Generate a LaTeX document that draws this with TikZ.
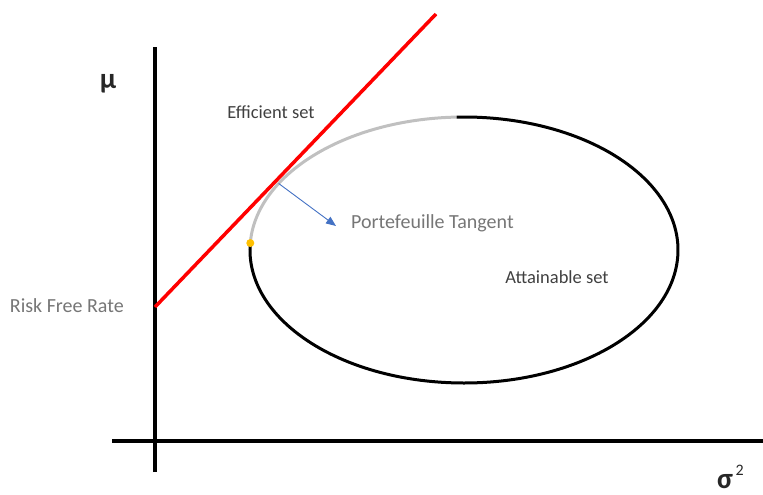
\documentclass[tikz,border=0pt]{standalone}
\usepackage{fontspec}
\setmainfont{Carlito}
\usepackage{tikz}
\usetikzlibrary{positioning,arrows.meta,calc}
\definecolor{rouge}{RGB}{255,0,0}
\definecolor{grisarc}{RGB}{192,192,192}
\definecolor{gristexte}{RGB}{118,118,118}
\definecolor{grisfonce}{RGB}{64,64,64}
\definecolor{bleufleche}{RGB}{68,114,196}
\definecolor{jaune}{RGB}{255,192,0}

\begin{document}
\begin{tikzpicture}[x=1pt, y=-1pt,
    axe/.style={line width=3.5pt, black},
    courbe/.style={line width=3pt},
    lbl/.style={inner sep=0pt, font=\fontsize{18.5}{20}\selectfont},
    lblgris/.style={inner sep=0pt, text=gristexte, font=\fontsize{20}{22}\selectfont},
    sym/.style={inner sep=0pt, font=\bfseries\fontsize{29}{30}\selectfont}]
  \useasboundingbox (0,0) rectangle (763,495);
  % axes
  \coordinate (ybas) at (155,472);
  \coordinate (yhaut) at (155,47);
  \coordinate (xg) at (112,441);
  \coordinate (xd) at (763,441);
  \draw[axe] (ybas) -- (yhaut);
  \draw[axe] (xg) -- (xd);
  \node[sym, text=grisfonce!60!black] (mu) at (108,84) {μ};
  \node[sym, text=grisfonce!60!black, anchor=base west, text depth=0pt] (sigma) at (717,488) {σ\raisebox{13pt}{\fontsize{16}{16}\selectfont\mdseries\,2}};
  % ensemble atteignable
  \coordinate (ctr) at (464,250);
  \coordinate (dep) at ($(ctr)+(177:214pt and 133pt)$);
  \coordinate (tan) at ($(ctr)+(150:214pt and 133pt)$);
  \draw[courbe, grisarc] (dep) arc[start angle=177, end angle=92, x radius=214pt, y radius=133pt];
  \draw[courbe, black] (dep) arc[start angle=177, end angle=452, x radius=214pt, y radius=133pt];
  \fill[jaune] (dep) circle[radius=4pt];
  % droite de marche
  \coordinate (rf) at (155,307);
  \coordinate (cml) at (436,14);
  \draw[line width=3.5pt, rouge] (rf) -- (cml);
  % fleche tangente
  \coordinate (pointe) at (336,226);
  \draw[bleufleche, line width=0.9pt, -{Triangle[length=10pt,width=8pt]}] (tan) -- (pointe);
  % textes
  \node[lbl, text=grisfonce] (eff) at (271,112) {Efficient set};
  \node[lblgris, anchor=west] (ptf) at (351,223) {Portefeuille Tangent};
  \node[lbl, text=grisfonce] (att) at (557,277) {Attainable set};
  \node[lblgris, anchor=east] (rfr) at (124,306) {Risk Free Rate};
\end{tikzpicture}
\end{document}
